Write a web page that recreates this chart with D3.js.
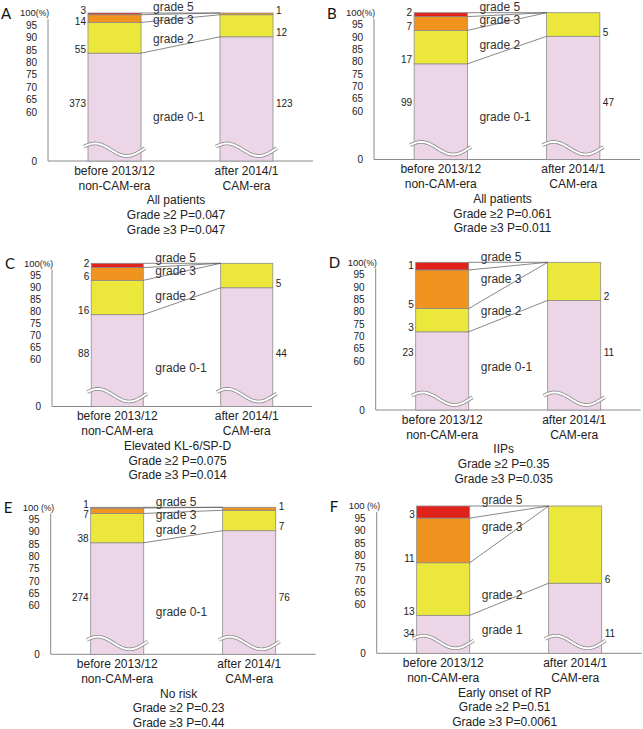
<!DOCTYPE html>
<html><head><meta charset="utf-8">
<script src="https://cdn.jsdelivr.net/npm/d3@7"></script>
<style>body{margin:0;background:#fff}</style>
</head><body><svg id="c" width="643" height="729"></svg>
<script>
// ---------- data ----------
const panelLetters = ["A","B","C","D","E","F"];
const categories = [["before 2013/12","non-CAM-era"],["after 2014/1","CAM-era"]];
const gradeNames = ["grade 0-1","grade 2","grade 3","grade 5"];
const baseGradeNames = ["grade 0-1","grade 0-1","grade 0-1","grade 0-1","grade 0-1","grade 1"];
const subtitles = ["All patients","All patients","Elevated KL-6/SP-D","IIPs","No risk","Early onset of RP"];
const pGrade2 = ["0.047","0.061","0.075","0.35","0.23","0.51"];
const pGrade3 = ["0.047","0.011","0.014","0.035","0.44","0.0061"];
// counts (grade 0-1, grade 2, grade 3, grade 5)
const beforeCounts = [[373,55,14,3],[99,17,7,2],[88,16,6,2],[23,3,5,1],[274,38,7,1],[34,13,11,3]];
const afterCounts  = [[123,12,1,0],[47,5,0,0],[44,5,0,0],[11,2,0,0],[76,7,1,0],[11,6,0,0]];
// cumulative bar heights (%)
const beforeCumPct = [[83.8,96.2,99.3,100],[79.2,92.8,98.4,100],[78.6,92.9,98.2,100],[71.9,81.3,96.9,100],[85.6,97.5,99.7,100],[55.7,77.0,95.1,100]];
const afterCumPct  = [[90.4,99.3,100,100],[90.4,100,100,100],[89.8,100,100,100],[84.6,100,100,100],[90.5,98.8,100,100],[68.7,100,100,100]];
const yTicks = [60,65,70,75,80,85,90,95];
const topTick = 100;
const percentSuffix = ["(%)","(%)","(%)","(%)"," (%)"," (%)"];
const axisFloor = 40.3;

// ---------- layout ----------
const colors = ["#ecd5e7","#ece83b","#f0931f","#e1221b"];
const layout = [
  {x:48,    top:13,    bottom:161,   len:265},
  {x:374,   top:12.7,  bottom:159.5, len:266},
  {x:52,    top:263.3, bottom:406.5, len:260},
  {x:375.7, top:262.3, bottom:410,   len:265},
  {x:50.7,  top:507.3, bottom:654.3, len:265},
  {x:376.7, top:506,   bottom:653.3, len:265}
];
const sans = "'Liberation Sans', Arial, Helvetica, sans-serif";
const svg = d3.select("#c");

panelLetters.forEach((letter, i) => {
  const L = layout[i];
  const g = svg.append("g");
  const y = d3.scaleLinear().domain([axisFloor, 100]).range([L.bottom, L.top]);
  const x = d3.scaleBand().domain([0,1]).range([L.x, L.x + L.len]).paddingInner(0.598).paddingOuter(0.303);
  const bw = x.bandwidth();
  const cums = [beforeCumPct[i], afterCumPct[i]];
  const counts = [beforeCounts[i], afterCounts[i]];

  // axes
  g.append("line").attr("x1",L.x).attr("x2",L.x).attr("y1",L.top+6).attr("y2",L.bottom)
    .attr("stroke","#8a8a8a").attr("stroke-width",1);
  g.append("line").attr("x1",L.x).attr("x2",L.x+L.len).attr("y1",L.bottom).attr("y2",L.bottom)
    .attr("stroke","#8a8a8a").attr("stroke-width",1);

  // tick labels
  yTicks.forEach(t => {
    g.append("text").attr("x",L.x-11).attr("y",y(t)).attr("dy","0.35em")
      .attr("text-anchor","end").attr("font-family",sans).attr("font-size",10).attr("fill","#222").text(t);
  });
  const tt = g.append("text").attr("x",L.x-28).attr("y",y(topTick)).attr("dy","0.35em")
    .attr("font-family",sans).attr("font-size",9.5).attr("fill","#222").attr("xml:space","preserve");
  tt.append("tspan").text(topTick);
  tt.append("tspan").attr("font-size",8.5).text(percentSuffix[i]);
  g.append("text").attr("x",L.x-11).attr("y",L.bottom).attr("dy","0.35em")
    .attr("text-anchor","end").attr("font-family",sans).attr("font-size",10).attr("fill","#222").text("0");

  // bars
  [0,1].forEach(b => {
    const bx = x(b);
    cums[b].forEach((c, k) => {
      const lo = k === 0 ? axisFloor : cums[b][k-1];
      if (c - lo <= 0) return;
      g.append("rect").attr("x",bx).attr("width",bw)
        .attr("y",y(c)).attr("height",y(lo)-y(c))
        .attr("fill",colors[k]).attr("stroke","#8c8c8c").attr("stroke-width",0.8);
    });
  });

  // connecting lines
  const x1r = x(0) + bw, x2l = x(1);
  cums[0].forEach((c, k) => {
    g.append("line").attr("x1",x1r).attr("y1",y(c)).attr("x2",x2l).attr("y2",y(cums[1][k]))
      .attr("stroke","#555").attr("stroke-width",0.7);
  });

  // break symbol
  [0,1].forEach(b => {
    const bx = x(b);
    const c = L.bottom - 11.3, A = 6.3, P = bw*1.2, x0 = bx - 9;
    const pts = d3.range(bx-4, bx+bw+4.01, 1).map(px => [px, c - A*Math.sin(2*Math.PI*(px-x0)/P)]);
    const line = d3.line().curve(d3.curveBasis);
    g.append("path").attr("d",line(pts)).attr("fill","none").attr("stroke","#8a8a8a").attr("stroke-width",3.6);
    g.append("path").attr("d",line(pts)).attr("fill","none").attr("stroke","#fff").attr("stroke-width",2);
  });

  // count labels
  [0,1].forEach(b => {
    const cnt = counts[b], cum = cums[b];
    const tx = b === 0 ? x(0) - 2 : x(1) + bw + 3;
    const anchor = b === 0 ? "end" : "start";
    let prev = null;
    for (let k = 3; k >= 1; k--) {
      if (!cnt[k]) continue;
      const desired = y(cum[k-1]) - 4;
      const yy = prev === null ? Math.max(desired, L.top - 4) : Math.max(desired, prev + 10.5);
      prev = yy;
      g.append("text").attr("x",tx).attr("y",yy).attr("dy","0.35em").attr("text-anchor",anchor)
        .attr("font-family",sans).attr("font-size",10).attr("fill","#222").text(cnt[k]);
    }
    const y0 = Math.max(L.top + 90, y(beforeCumPct[i][0]) + 18);
    g.append("text").attr("x",tx).attr("y",y0).attr("dy","0.35em").attr("text-anchor",anchor)
      .attr("font-family",sans).attr("font-size",10).attr("fill","#222").text(cnt[0]);
  });

  // grade labels
  const gx = x1r + 12;
  const lineAt = k => { const t = 0.4; return y(cums[0][k]) + t*(y(cums[1][k]) - y(cums[0][k])); };
  const gy = [
    Math.max(L.top + 104, y(beforeCumPct[i][0]) + 14),
    lineAt(0) - 8,
    Math.max((lineAt(1) + lineAt(2))/2, L.top + 7),
    L.top - 6
  ];
  const names = [baseGradeNames[i], gradeNames[1], gradeNames[2], gradeNames[3]];
  names.forEach((n, k) => {
    g.append("text").attr("x",gx).attr("y",gy[k]).attr("dy","0.35em")
      .attr("font-family",sans).attr("font-size",12).attr("fill","#333").text(n);
  });

  // category labels
  [0,1].forEach(b => {
    categories[b].forEach((t, j) => {
      g.append("text").attr("x",x(b)+bw/2).attr("y",L.bottom + 9.5 + j*15).attr("dy","0.35em")
        .attr("text-anchor","middle").attr("font-family",sans).attr("font-size",12).attr("fill","#222").text(t);
    });
  });

  // subtitles
  const sx = L.x + L.len*0.483;
  [subtitles[i], "Grade \u22652 P=" + pGrade2[i], "Grade \u22653 P=" + pGrade3[i]].forEach((t, j) => {
    g.append("text").attr("x",sx).attr("y",L.bottom + 39 + j*14.8).attr("dy","0.35em")
      .attr("text-anchor","middle").attr("font-family",sans).attr("font-size",12).attr("fill","#222").text(t);
  });

  // panel letter
  g.append("text").attr("x",L.x-47).attr("y",L.top+6)
    .attr("font-family","Lato, 'Open Sans', sans-serif").attr("font-size",15).attr("fill","#111").text(letter);
});
</script>
</body></html>
